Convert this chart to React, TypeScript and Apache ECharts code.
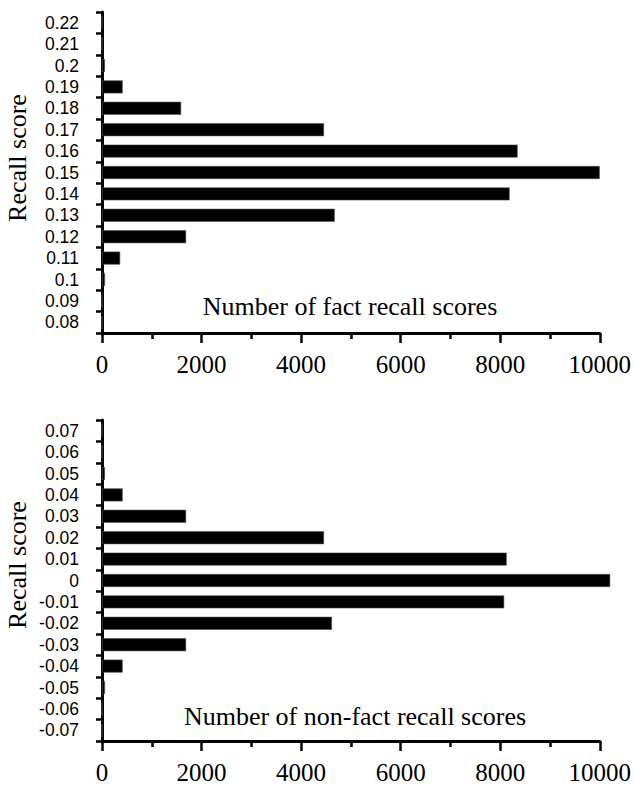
import React, { useEffect, useRef } from "react";
import * as echarts from "echarts";

const factCategories = ["0.22", "0.21", "0.2", "0.19", "0.18", "0.17", "0.16", "0.15", "0.14", "0.13", "0.12", "0.11", "0.1", "0.09", "0.08"];
const factCounts = [0, 0, 60, 415, 1590, 4460, 8350, 10000, 8190, 4675, 1690, 365, 60, 0, 0];

const nonFactCategories = ["0.07", "0.06", "0.05", "0.04", "0.03", "0.02", "0.01", "0", "-0.01", "-0.02", "-0.03", "-0.04", "-0.05", "-0.06", "-0.07"];
const nonFactCounts = [0, 0, 60, 415, 1690, 4460, 8130, 10210, 8080, 4620, 1690, 415, 60, 0, 0];

const xTicks = { min: 0, max: 10000, interval: 2000 };

const yTitle = "Recall score";
const factTitle = "Number of fact recall scores";
const nonFactTitle = "Number of non-fact recall scores";

const SERIF = "'Liberation Serif', 'Times New Roman', serif";
const SANS = "'Liberation Sans', Arial, sans-serif";

export default function App() {
  const ref = useRef<HTMLDivElement>(null);
  useEffect(() => {
    if (!ref.current) return;
    const chart = echarts.init(ref.current, null, { renderer: "svg" });
    const axisLine = { show: true, lineStyle: { color: "#000", width: 3 } };
    const makeX = (gridIndex: number) => ({
      type: "value",
      gridIndex,
      min: xTicks.min,
      max: xTicks.max,
      interval: xTicks.interval,
      axisLine,
      axisTick: { show: true, length: 10, lineStyle: { color: "#000", width: 2.5 } },
      minorTick: { show: true, splitNumber: 2, length: 6, lineStyle: { color: "#000", width: 2.5 } },
      splitLine: { show: false },
      minorSplitLine: { show: false },
      axisLabel: { color: "#000", fontFamily: SERIF, fontSize: 25, margin: 19, formatter: (v: number) => String(v) },
    });
    const makeY = (gridIndex: number, data: string[]) => ({
      type: "category",
      gridIndex,
      data,
      inverse: true,
      boundaryGap: true,
      axisLine,
      axisTick: { show: true, length: 6, alignWithLabel: false, lineStyle: { color: "#000", width: 2.5 } },
      splitLine: { show: false },
      axisLabel: { color: "#000", fontFamily: SANS, fontSize: 17.5, margin: 23, interval: 0 },
    });
    const barStyle = { color: "#000", borderColor: "#555", borderWidth: 0.6 };
    chart.setOption({
      animation: false,
      backgroundColor: "#fff",
      grid: [
        { left: 102, top: 12, width: 502, height: 321 },
        { left: 102, top: 420, width: 502, height: 321 },
      ],
      xAxis: [makeX(0), makeX(1)],
      yAxis: [makeY(0, factCategories), makeY(1, nonFactCategories)],
      series: [
        { type: "bar", xAxisIndex: 0, yAxisIndex: 0, data: factCounts, barWidth: 13, itemStyle: barStyle, clip: false },
        { type: "bar", xAxisIndex: 1, yAxisIndex: 1, data: nonFactCounts, barWidth: 13, itemStyle: barStyle, clip: false },
      ],
      graphic: [
        { type: "text", x: 17, y: 158, rotation: Math.PI / 2, style: { text: yTitle, fill: "#000", font: `26px ${SERIF}`, textAlign: "center", textVerticalAlign: "middle" } },
        { type: "text", x: 17, y: 565, rotation: Math.PI / 2, style: { text: yTitle, fill: "#000", font: `26px ${SERIF}`, textAlign: "center", textVerticalAlign: "middle" } },
        { type: "text", x: 350, y: 306, style: { text: factTitle, fill: "#000", font: `26px ${SERIF}`, textAlign: "center", textVerticalAlign: "middle" } },
        { type: "text", x: 355, y: 716, style: { text: nonFactTitle, fill: "#000", font: `26px ${SERIF}`, textAlign: "center", textVerticalAlign: "middle" } },
      ],
    });
    return () => chart.dispose();
  }, []);
  return <div ref={ref} style={{ position: "fixed", left: 0, top: 0, width: 634, height: 785 }} />;
}
